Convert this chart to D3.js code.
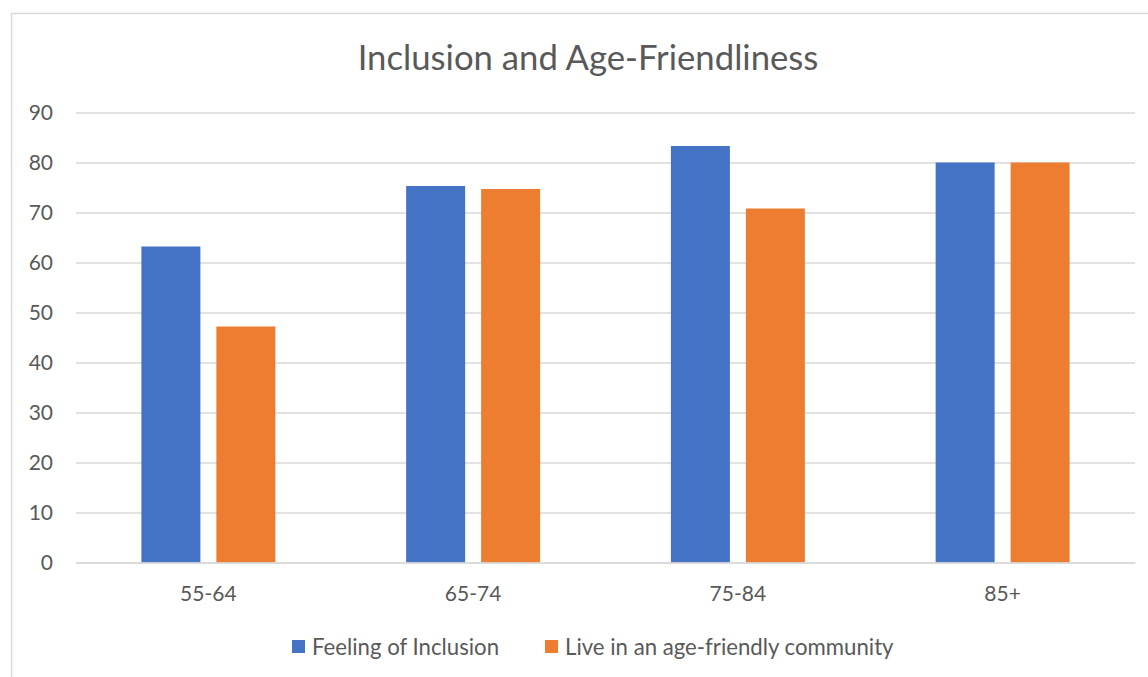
<!DOCTYPE html>
<html>
<head>
<meta charset="utf-8">
<script src="https://cdn.jsdelivr.net/npm/d3@7"></script>
<style>
  body { margin: 0; background: #fff; }
  text { font-family: Lato, "Open Sans", sans-serif; fill: #595959; }
</style>
</head>
<body>
<div id="chart"></div>
<script>
var width = 1148;
var height = 677;

// data
var categories = ['55-64', '65-74', '75-84', '85+'];
var seriesNames = ['Feeling of Inclusion', 'Live in an age-friendly community'];
var inclusion = [63.2, 75.3, 83.3, 80];
var ageFriendly = [47.2, 74.7, 70.8, 80];
var yTicks = [0, 10, 20, 30, 40, 50, 60, 70, 80, 90];
var colors = ['#4472C4', '#ED7D31'];

var plotLeft = 76, plotRight = 1135, plotTop = 112.5, plotBottom = 562.5;

var svg = d3.select('#chart')
  .append('svg')
  .attr('width', width)
  .attr('height', height)
  .style('display', 'block');

// chart area border (only top and left show)
svg.append('rect')
  .attr('x', 11.5).attr('y', 13.5)
  .attr('width', width + 20).attr('height', height + 20)
  .attr('fill', 'none')
  .attr('stroke', '#d9d9d9')
  .attr('stroke-width', 1.5);

var x0 = d3.scaleBand()
  .domain(categories)
  .range([plotLeft, plotRight])
  .paddingInner(0.494)
  .paddingOuter(0.247);

var x1 = d3.scaleBand()
  .domain([0, 1])
  .range([0, x0.bandwidth()])
  .paddingInner(0.213);

var y = d3.scaleLinear()
  .domain([0, 90])
  .range([plotBottom, plotTop]);

// gridlines
svg.append('g')
  .attr('class', 'grid')
  .attr('transform', 'translate(' + plotLeft + ',0)')
  .call(d3.axisLeft(y).tickValues(yTicks).tickSize(-(plotRight - plotLeft)).tickFormat(''))
  .call(function(g) {
    g.select('.domain').remove();
    g.selectAll('line').attr('stroke', '#d9d9d9').attr('stroke-width', 1.5);
  });

// y axis labels
svg.append('g')
  .attr('transform', 'translate(53,0)')
  .call(d3.axisLeft(y).tickValues(yTicks).tickSize(0).tickPadding(0))
  .call(function(g) {
    g.select('.domain').remove();
    g.selectAll('text')
      .style('font-size', '21px')
      .style('font-family', 'Lato, sans-serif')
      .attr('fill', '#595959');
  });

// bars
var rows = categories.map(function(c, i) {
  return { cat: c, values: [inclusion[i], ageFriendly[i]] };
});

var groups = svg.selectAll('.group')
  .data(rows)
  .enter()
  .append('g')
  .attr('class', 'group')
  .attr('transform', function(d) { return 'translate(' + x0(d.cat) + ',0)'; });

groups.selectAll('rect')
  .data(function(d) { return d.values.map(function(v, j) { return { s: j, v: v }; }); })
  .enter()
  .append('rect')
  .attr('x', function(d) { return x1(d.s); })
  .attr('y', function(d) { return y(d.v); })
  .attr('width', x1.bandwidth())
  .attr('height', function(d) { return y(0) - y(d.v); })
  .attr('fill', function(d) { return colors[d.s]; });

// x axis
var xAxis = d3.scaleBand().domain(categories).range([plotLeft, plotRight]);
svg.append('g')
  .attr('transform', 'translate(0,' + plotBottom + ')')
  .call(d3.axisBottom(xAxis).tickSize(0).tickPadding(24))
  .call(function(g) {
    g.select('.domain').attr('stroke', '#d9d9d9').attr('stroke-width', 1.5);
    g.selectAll('text')
      .style('font-size', '21px')
      .style('font-family', 'Lato, sans-serif')
      .attr('fill', '#595959');
  });

// title
svg.append('text')
  .attr('x', 588)
  .attr('y', 70)
  .attr('text-anchor', 'middle')
  .text('Inclusion and Age-Friendliness')
  .style('font-size', '34.7px');

// legend
var legendX = [292, 545];
var legend = svg.selectAll('.legend')
  .data(seriesNames)
  .enter()
  .append('g')
  .attr('class', 'legend')
  .attr('transform', function(d, i) { return 'translate(' + legendX[i] + ',640)'; });

legend.append('rect')
  .attr('width', 13).attr('height', 13)
  .attr('fill', function(d, i) { return colors[i]; });

legend.append('text')
  .attr('x', 20)
  .attr('y', 6.5)
  .attr('dy', '0.36em')
  .text(function(d) { return d; })
  .style('font-size', '22.2px');
</script>
</body>
</html>
